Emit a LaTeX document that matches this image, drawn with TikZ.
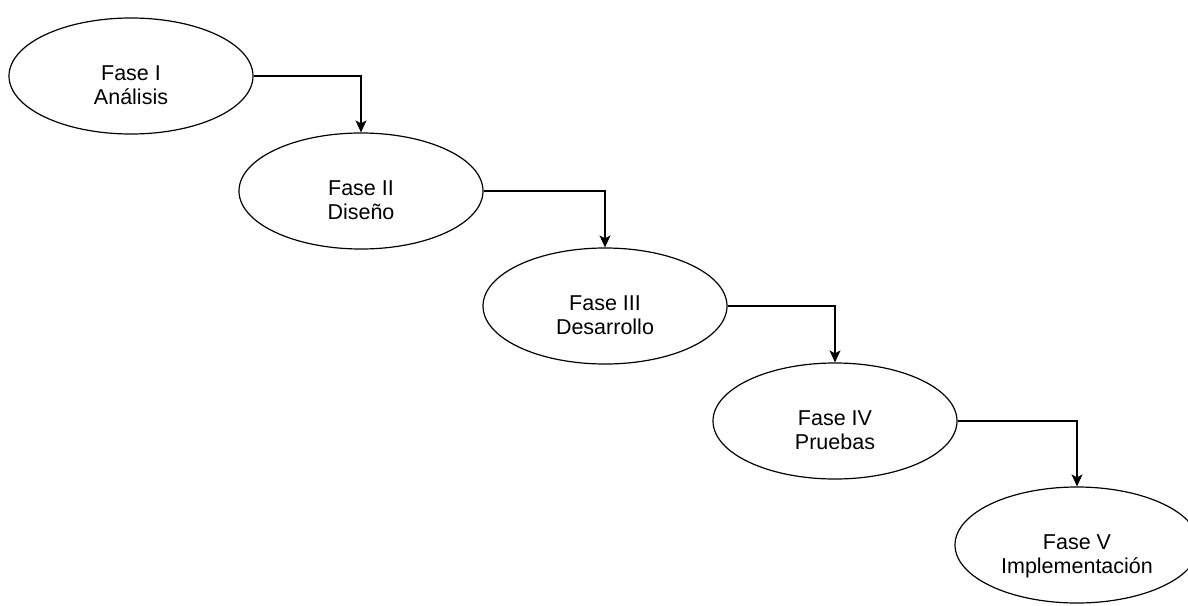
\documentclass[tikz,border=0pt]{standalone}
\usepackage{fontspec}
\setmainfont{Liberation Sans}
\usetikzlibrary{shapes.geometric,arrows.meta}
\begin{document}
\begin{tikzpicture}[x=1pt,y=-1pt,
  phase/.style={ellipse, draw=black, line width=1.2pt, fill=white,
    minimum width=244pt, minimum height=116pt, inner sep=0pt},
  phasetext/.style={align=center, font=\fontsize{21.5}{24.5}\selectfont,
    text depth=0pt, inner sep=0pt, yshift=-9pt},
  flow/.style={draw=black, line width=1.2pt,
    -{Stealth[length=12pt,width=11pt,inset=3pt]}}]
\useasboundingbox (0,0) rectangle (1188,605);
\clip (0,0) rectangle (1188,605);

% the five phases, stepping down to the right
\node[phase, label={[phasetext,name=t1]center:{Fase I\\Análisis}}] (p1) at (131,76) {};
\node[phase, label={[phasetext,name=t2]center:{Fase II\\Diseño}}] (p2) at (361,191) {};
\node[phase, label={[phasetext,name=t3]center:{Fase III\\Desarrollo}}] (p3) at (605,306) {};
\node[phase, label={[phasetext,name=t4]center:{Fase IV\\Pruebas}}] (p4) at (835,421) {};
\node[phase, label={[phasetext,name=t5]center:{Fase V\\Implementación}}] (p5) at (1077,545) {};

% elbow connectors from each phase to the next
\draw[flow] (p1.east) -| (p2.north);
\draw[flow] (p2.east) -| (p3.north);
\draw[flow] (p3.east) -| (p4.north);
\draw[flow] (p4.east) -| (p5.north);
\end{tikzpicture}
\end{document}
